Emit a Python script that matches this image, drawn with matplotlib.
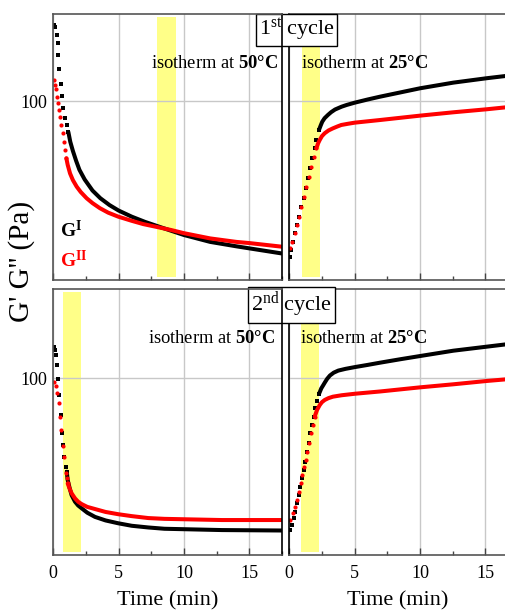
import matplotlib
matplotlib.use("Agg")
import matplotlib.pyplot as plt
from matplotlib.ticker import MultipleLocator, NullLocator, FixedLocator
import numpy as np

plt.rcParams['font.family'] = ['Liberation Serif', 'DejaVu Serif']
plt.rcParams['mathtext.fontset'] = 'custom'
plt.rcParams['mathtext.rm'] = 'Liberation Serif'
plt.rcParams['mathtext.bf'] = 'Liberation Serif:bold'
plt.rcParams['mathtext.it'] = 'Liberation Serif:italic'

# 1st cycle, isotherm at 50 C
t_c1_50_g1 = [0.05, 0.13, 0.26, 0.34, 0.38, 0.46, 0.57, 0.69, 0.77, 0.9, 1.03, 1.15,
              1.3, 1.5, 1.75, 2.0, 2.4, 3.0, 3.6, 4.3, 5.0, 6.0, 7.0, 8.2, 10.0, 12.0,
              14.0, 15.0, 17.5]
g1_c1_50 = [199, 195, 182, 169, 152, 134, 117, 105, 94, 86, 81, 76,
            69.5, 64.0, 58.5, 54.0, 49.5, 44.8, 41.8, 39.3, 37.4, 35.4, 33.8, 32.2, 30.0, 28.2,
            27.1, 26.6, 25.4]
t_c1_50_g2 = [0.03, 0.12, 0.21, 0.3, 0.39, 0.46, 0.54, 0.62, 0.72, 0.81, 0.9, 1.0,
              1.1, 1.28, 1.5, 1.79, 2.1, 2.55, 3.0, 3.57, 4.2, 4.97, 6.0, 6.89, 8.0, 9.0,
              10.0, 12.0, 14.0, 15.0, 17.5]
g2_c1_50 = [121, 116, 111.6, 104.4, 98.4, 92.6, 87.2, 80.9, 75.1, 69.6, 64.6, 59.9,
            56.5, 52.3, 49.2, 46.4, 44.2, 41.8, 40.0, 38.2, 36.7, 35.4, 34.1, 33.1, 32.2, 31.4,
            30.5, 29.1, 28.2, 27.9, 27.0]

# 1st cycle, isotherm at 25 C
t_c1_25_g1 = [0.03, 0.15, 0.28, 0.46, 0.59, 0.74, 0.92, 1.1, 1.25, 1.43, 1.61, 1.76,
              1.94, 2.07, 2.27, 2.4, 2.52, 2.7, 2.96, 3.2, 3.5, 4.0, 4.39, 5.0, 6.0,
              6.94, 8.5, 10.0, 12.55, 15.1, 16.6]
g1_c1_25 = [24.7, 26.2, 28.2, 30.5, 32.8, 35.4, 38.7, 41.8, 45.7, 50.0, 54.8, 59.9,
            65.6, 70.7, 77.3, 80.5, 83.3, 86.0, 88.6, 90.8, 93.0, 95.4, 96.9, 98.9, 101.8,
            104.4, 108.5, 112.6, 118.5, 123.3, 125.9]
t_c1_25_g2 = [0.03, 0.23, 0.41, 0.59, 0.74, 0.92, 1.1, 1.3, 1.51, 1.68, 1.87, 2.07,
              2.2, 2.33, 2.5, 2.71, 3.0, 3.34, 3.7, 3.98, 4.5, 5.0, 6.94, 10.0, 12.55,
              15.1, 16.6]
g2_c1_25 = [26.6, 28.2, 30.5, 32.8, 35.4, 38.7, 42.4, 46.4, 50.8, 55.5, 60.8, 65.6,
            68.5, 70.7, 73.2, 75.1, 77.0, 78.5, 79.9, 80.9, 81.8, 82.6, 84.6, 88.0, 90.7,
            93.2, 94.9]

# 2nd cycle, isotherm at 50 C
t_c2_50_g1 = [0.05, 0.15, 0.24, 0.32, 0.38, 0.46, 0.57, 0.64, 0.77, 0.84, 0.95, 1.03,
              1.1, 1.25, 1.4, 1.66, 1.9, 2.17, 2.6, 3.19, 4.0, 4.97, 6.0, 7.27, 8.5,
              9.95, 12.9, 17.5]
g1_c2_50 = [133.4, 129.4, 123.7, 112.9, 99.1, 85.9, 71.6, 60.6, 54.5, 49.0, 44.7, 42.7,
            39.6, 36.8, 34.5, 32.5, 31.4, 30.6, 29.4, 28.3, 27.4, 26.7, 26.1, 25.7, 25.4,
            25.3, 25.1, 25.0]
t_c2_50_g2 = [0.05, 0.18, 0.31, 0.42, 0.49, 0.62, 0.72, 0.82, 0.95, 1.03, 1.1,
              1.25, 1.4, 1.66, 1.9, 2.17, 2.6, 3.19, 4.0, 4.97, 6.0, 7.27, 8.5, 9.95,
              12.9, 17.5]
g2_c2_50 = [97.0, 93.2, 87.2, 79.6, 70.1, 62.4, 54.0, 48.7, 42.1, 40.2, 38.4,
            36.6, 35.1, 33.5, 32.5, 31.8, 31.0, 30.4, 29.6, 29.0, 28.5, 28.0, 27.8, 27.7,
            27.5, 27.5]

# 2nd cycle, isotherm at 25 C
t_c2_25_g1 = [0.05, 0.21, 0.33, 0.46, 0.59, 0.72, 0.84, 0.97, 1.1, 1.22, 1.35, 1.48,
              1.61, 1.74, 1.87, 1.99, 2.12, 2.27, 2.45, 2.6, 2.71, 2.9, 3.11, 3.4, 3.75,
              4.3, 5.03, 6.0, 6.94, 8.5, 10.0, 12.55, 15.1, 16.6]
g1_c2_25 = [25.1, 26.3, 27.9, 29.7, 32.0, 34.5, 37.3, 40.2, 43.4, 46.8, 51.2, 55.3,
            60.6, 65.4, 70.5, 76.1, 81.5, 86.7, 91.3, 94.0, 96.1, 99.6, 102.6, 105.3, 107.3,
            109.0, 110.8, 113.0, 115.3, 119.0, 122.5, 128.6, 133.4, 136.3]
t_c2_25_g2 = [0.05, 0.28, 0.46, 0.59, 0.74, 0.87, 1.0, 1.12, 1.25, 1.38, 1.51, 1.68,
              1.81, 1.94, 2.12, 2.33, 2.5, 2.71, 3.0, 3.34, 4.0, 5.03, 6.94, 10.0, 12.55,
              15.1, 16.6]
g2_c2_25 = [27.5, 29.2, 31.1, 33.0, 35.6, 38.4, 41.4, 44.5, 47.5, 51.2, 55.3, 60.6,
            65.4, 70.5, 74.9, 78.4, 80.5, 82.1, 83.5, 84.6, 85.7, 86.9, 88.7, 92.1, 94.7,
            97.6, 99.1]

# isotherm windows (min)
band_c1_50 = (7.96, 9.36)
band_c1_25 = (0.95, 2.35)
band_c2_50 = (0.77, 2.14)
band_c2_25 = (0.9, 2.27)

W, H = 506, 613
fig = plt.figure(figsize=(W / 100, H / 100), dpi=100)


def px_axes(x0, y0, x1, y1):
    return fig.add_axes([x0 / W, 1 - y1 / H, (x1 - x0) / W, (y1 - y0) / H])


def style(ax, xmax, ylim, left, bottom):
    ax.set_yscale('log')
    ax.set_xlim(0, xmax)
    ax.set_ylim(*ylim)
    ax.xaxis.set_major_locator(MultipleLocator(5))
    ax.xaxis.set_minor_locator(MultipleLocator(2.5))
    ax.yaxis.set_major_locator(FixedLocator([100]))
    ax.yaxis.set_minor_locator(NullLocator())
    ax.set_yticklabels(['100'])
    ax.tick_params(axis='x', which='major', direction='in', length=5, width=1,
                   labelsize=13, pad=7, labelbottom=bottom, color='#444444')
    ax.tick_params(axis='x', which='minor', direction='in', length=3, width=1,
                   color='#444444')
    ax.tick_params(axis='y', which='both', length=0, labelsize=13, pad=4,
                   labelleft=left)
    ax.grid(True, which='major', color='#c8c8c8', lw=1)
    ax.set_axisbelow(True)
    for s in ax.spines.values():
        s.set_color('#555555')
        s.set_linewidth(1.2)
    ax.spines['right'].set_color('black')
    if not left:
        ax.spines['right'].set_visible(False)
        ax.spines['left'].set_color('black')


def draw(ax, t, g, color, marker, ms, t_join):
    t = np.asarray(t)
    g = np.asarray(g)
    k = np.searchsorted(t, t_join, side='right')
    ax.plot(t[k - 1:], g[k - 1:], color=color, lw=2.9, solid_capstyle='round',
            solid_joinstyle='round', zorder=2)
    ax.plot(t[:k], g[:k], ls='none', marker=marker, ms=ms, color=color, mew=0, zorder=2)


ax_tl = px_axes(53.3, 14, 282, 280)
ax_tr = px_axes(289.3, 14, 506, 280)
ax_bl = px_axes(53.3, 289, 282, 555)
ax_br = px_axes(289.3, 289, 506, 555)
for a in (ax_tl, ax_bl):
    a.set_zorder(2)
for a in (ax_tr, ax_br):
    a.set_zorder(1)

style(ax_tl, 17.5, (20, 220), True, False)
style(ax_tr, 16.58, (20, 220), False, False)
style(ax_bl, 17.5, (20, 225.6), True, True)
style(ax_br, 16.58, (20, 225.6), False, True)

yellow = '#ffff88'
ax_tl.axvspan(*band_c1_50, ymin=0.011, ymax=0.989, color=yellow, lw=0, zorder=0.2)
ax_tr.axvspan(*band_c1_25, ymin=0.011, ymax=0.989, color=yellow, lw=0, zorder=0.2)
ax_bl.axvspan(*band_c2_50, ymin=0.011, ymax=0.989, color=yellow, lw=0, zorder=0.2)
ax_br.axvspan(*band_c2_25, ymin=0.011, ymax=0.989, color=yellow, lw=0, zorder=0.2)

draw(ax_tl, t_c1_50_g1, g1_c1_50, 'black', 's', 2.6, 1.15)
draw(ax_tl, t_c1_50_g2, g2_c1_50, 'red', 'o', 3.0, 1.0)
draw(ax_tr, t_c1_25_g1, g1_c1_25, 'black', 's', 2.6, 2.27)
draw(ax_tr, t_c1_25_g2, g2_c1_25, 'red', 'o', 3.0, 2.07)
draw(ax_bl, t_c2_50_g1, g1_c2_50, 'black', 's', 2.6, 1.03)
draw(ax_bl, t_c2_50_g2, g2_c2_50, 'red', 'o', 3.0, 1.1)
draw(ax_br, t_c2_25_g1, g1_c2_25, 'black', 's', 2.6, 2.27)
draw(ax_br, t_c2_25_g2, g2_c2_25, 'red', 'o', 3.0, 1.94)

# annotations
iso_fs = 13.3
ax_tl.text(0.982, 0.798, r'isotherm at $\mathbf{50°C}$', transform=ax_tl.transAxes,
           ha='right', va='baseline', fontsize=iso_fs)
ax_tr.text(0.053, 0.798, r'isotherm at $\mathbf{25°C}$', transform=ax_tr.transAxes,
           ha='left', va='baseline', fontsize=iso_fs)
ax_bl.text(0.969, 0.798, r'isotherm at $\mathbf{50°C}$', transform=ax_bl.transAxes,
           ha='right', va='baseline', fontsize=iso_fs)
ax_br.text(0.049, 0.798, r'isotherm at $\mathbf{25°C}$', transform=ax_br.transAxes,
           ha='left', va='baseline', fontsize=iso_fs)

ax_tl.text(0.029, 0.162, r'$\mathbf{G}^{\mathbf{I}}$', transform=ax_tl.transAxes,
           ha='left', va='baseline', fontsize=14, color='black')
ax_tl.text(0.029, 0.049, r'$\mathbf{G}^{\mathbf{II}}$', transform=ax_tl.transAxes,
           ha='left', va='baseline', fontsize=14, color='red')

box = dict(boxstyle='square,pad=0.12', fc='white', ec='black', lw=1)
ax_tl.text(296.5 / W, 1 - 30 / H, r'1$^{\mathrm{st}}$ cycle', transform=fig.transFigure,
           ha='center', va='center', fontsize=16, bbox=box, zorder=2.4, clip_on=False)
ax_bl.text(291.7 / W, 1 - 305 / H, r'2$^{\mathrm{nd}}$ cycle', transform=fig.transFigure,
           ha='center', va='center', fontsize=16, bbox=box, zorder=2.4, clip_on=False)

ax_bl.set_xlabel('Time (min)', fontsize=16, labelpad=7)
ax_br.set_xlabel('Time (min)', fontsize=16, labelpad=7)
fig.text(22 / W, 1 - 261 / H, "G' G'' (Pa)", rotation=90, fontsize=21,
         ha='center', va='center')

fig.savefig('out.png', dpi=100)
